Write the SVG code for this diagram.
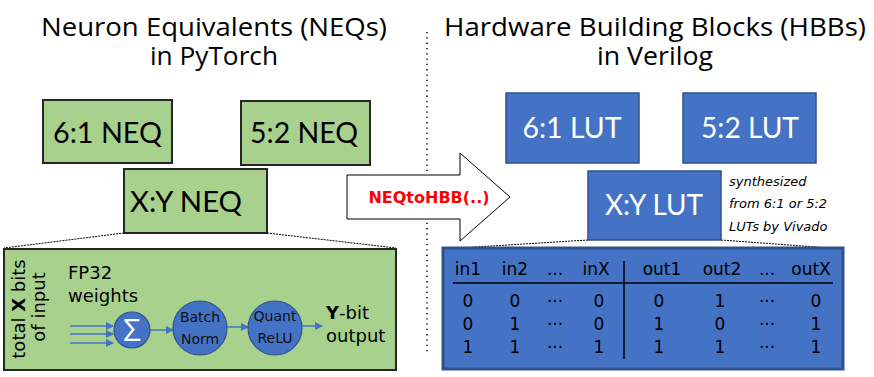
<svg xmlns="http://www.w3.org/2000/svg" width="874" height="377" viewBox="0 0 874 377">
<defs>
<style>
.title{font-family:"Open Sans","DejaVu Sans",sans-serif;font-size:26px;fill:#000;text-anchor:middle}
.neq{fill:#a9d18e;stroke:#262626;stroke-width:2}
.lut{fill:#4472c4;stroke:#2f528f;stroke-width:1.5}
.bt{font-family:Lato,"Liberation Sans",sans-serif;font-size:29px;text-anchor:middle}
.dv{font-family:"DejaVu Sans",sans-serif}
.circ{fill:#4472c4;stroke:#2f528f;stroke-width:1.2}
.bl{stroke:#4472c4;stroke-width:1.5;fill:none}
.dot{stroke:#000;stroke-width:1;stroke-dasharray:2 1;fill:none}
.tab{font-family:"DejaVu Sans",sans-serif;font-size:17px;fill:#000;text-anchor:middle}
</style>
<marker id="ah" markerWidth="8" markerHeight="8" refX="7" refY="4" orient="auto" markerUnits="userSpaceOnUse">
<path d="M0,0 L8,4 L0,8 z" fill="#4472c4"/>
</marker>
</defs>
<rect width="874" height="377" fill="#fff"/>

<g id="titles">
<text class="title" x="214" y="36" textLength="346" lengthAdjust="spacingAndGlyphs">Neuron Equivalents (NEQs)</text>
<text class="title" x="214" y="65" textLength="128" lengthAdjust="spacingAndGlyphs">in PyTorch</text>
<text class="title" x="655" y="36" textLength="422" lengthAdjust="spacingAndGlyphs">Hardware Building Blocks (HBBs)</text>
<text class="title" x="655" y="65" textLength="116" lengthAdjust="spacingAndGlyphs">in Verilog</text>
</g>

<g id="connectors">
<line x1="427" y1="32" x2="427" y2="352" stroke="#000" stroke-width="1.5" stroke-dasharray="1.3 4"/>
<path class="dot" d="M124,233 L4,248"/>
<path class="dot" d="M267,233 L396,248"/>
<path class="dot" d="M588,240 L443,249"/>
<path class="dot" d="M721,240 L843,249"/>
</g>

<g id="neq61">
<rect class="neq" x="43" y="100" width="129" height="63"/>
<text class="bt" x="107.5" y="143" fill="#000" textLength="109" lengthAdjust="spacingAndGlyphs">6:1 NEQ</text>
</g>
<g id="neq52">
<rect class="neq" x="241" y="101" width="129" height="64"/>
<text class="bt" x="304" y="143" fill="#000" textLength="108" lengthAdjust="spacingAndGlyphs">5:2 NEQ</text>
</g>
<g id="neqxy">
<rect class="neq" x="124" y="169" width="143" height="64"/>
<text class="bt" x="186" y="212" fill="#000" textLength="112" lengthAdjust="spacingAndGlyphs">X:Y NEQ</text>
</g>

<g id="lut61">
<rect class="lut" x="506" y="93" width="133" height="70"/>
<text class="bt" x="572" y="138" fill="#fff" textLength="99" lengthAdjust="spacingAndGlyphs">6:1 LUT</text>
</g>
<g id="lut52">
<rect class="lut" x="683" y="93" width="133" height="70"/>
<text class="bt" x="750" y="138" fill="#fff" textLength="98" lengthAdjust="spacingAndGlyphs">5:2 LUT</text>
</g>
<g id="lutxy">
<rect class="lut" x="588" y="171" width="133" height="69"/>
<text class="bt" x="654" y="215" fill="#fff" textLength="98" lengthAdjust="spacingAndGlyphs">X:Y LUT</text>
</g>
<g id="note">
<text class="dv" font-size="13" font-style="italic" fill="#000">
<tspan x="729" y="186">synthesized</tspan>
<tspan x="729" y="208">from 6:1 or 5:2</tspan>
<tspan x="729" y="231">LUTs by Vivado</tspan>
</text>
</g>

<g id="neqtohbb">
<polygon points="347,175 460,175 460,153 510,197 460,241 460,219 347,219" fill="#fff" stroke="#000" stroke-width="1"/>
<text x="429" y="203" font-family="DejaVu Sans,sans-serif" font-weight="bold" font-size="16" fill="#ff0000" text-anchor="middle">NEQtoHBB(..)</text>
</g>

<g id="neq-detail">
<rect class="neq" x="4" y="249" width="392" height="121"/>
<text class="dv" font-size="18" fill="#000" transform="translate(25,309) rotate(-90)" text-anchor="middle">total <tspan font-weight="bold">X</tspan> bits</text>
<text class="dv" font-size="18" fill="#000" transform="translate(45,307) rotate(-90)" text-anchor="middle">of input</text>
<text class="dv" font-size="18" fill="#000"><tspan x="68" y="279">FP32</tspan><tspan x="68" y="302">weights</tspan></text>
<line class="bl" x1="70" y1="326" x2="113" y2="326" marker-end="url(#ah)"/>
<line class="bl" x1="70" y1="334" x2="113" y2="334" marker-end="url(#ah)"/>
<line class="bl" x1="70" y1="343" x2="113" y2="343" marker-end="url(#ah)"/>
<circle class="circ" cx="132" cy="330" r="18"/>
<text x="132" y="341" font-family="Open Sans,DejaVu Sans,sans-serif" font-size="31" fill="#fff" text-anchor="middle">Σ</text>
<line class="bl" x1="150" y1="330" x2="173" y2="330" marker-end="url(#ah)"/>
<circle class="circ" cx="200" cy="328" r="27"/>
<text class="dv" font-size="14" fill="#111" text-anchor="middle"><tspan x="200" y="322">Batch</tspan><tspan x="200" y="344">Norm</tspan></text>
<line class="bl" x1="227" y1="327" x2="248" y2="327" marker-end="url(#ah)"/>
<circle class="circ" cx="275" cy="328" r="27"/>
<text class="dv" font-size="14" fill="#111" text-anchor="middle"><tspan x="275" y="321">Quant</tspan><tspan x="275" y="343">ReLU</tspan></text>
<line class="bl" x1="302" y1="326" x2="322" y2="326" marker-end="url(#ah)"/>
<text class="dv" font-size="18" fill="#000"><tspan x="326" y="319"><tspan font-weight="bold">Y</tspan>-bit</tspan><tspan x="326" y="342">output</tspan></text>
</g>

<g id="lut-table">
<rect x="443" y="248" width="400" height="121" fill="#4472c4" stroke="#2f528f" stroke-width="3"/>
<line x1="453" y1="283" x2="833" y2="283" stroke="#000" stroke-width="1.5"/>
<line x1="624" y1="261" x2="624" y2="359" stroke="#000" stroke-width="1.5"/>
<text class="tab" y="275"><tspan x="468">in1</tspan><tspan x="515">in2</tspan><tspan x="555">...</tspan><tspan x="596">inX</tspan><tspan x="662">out1</tspan><tspan x="722">out2</tspan><tspan x="767">...</tspan><tspan x="811">outX</tspan></text>
<text class="tab" y="307"><tspan x="468">0</tspan><tspan x="515">0</tspan><tspan x="555">···</tspan><tspan x="599">0</tspan><tspan x="659">0</tspan><tspan x="720">1</tspan><tspan x="767">···</tspan><tspan x="816">0</tspan></text>
<text class="tab" y="330"><tspan x="468">0</tspan><tspan x="515">1</tspan><tspan x="555">···</tspan><tspan x="599">0</tspan><tspan x="659">1</tspan><tspan x="720">0</tspan><tspan x="767">···</tspan><tspan x="816">1</tspan></text>
<text class="tab" y="353"><tspan x="468">1</tspan><tspan x="515">1</tspan><tspan x="555">···</tspan><tspan x="599">1</tspan><tspan x="659">1</tspan><tspan x="720">1</tspan><tspan x="767">···</tspan><tspan x="816">1</tspan></text>
</g>
</svg>
